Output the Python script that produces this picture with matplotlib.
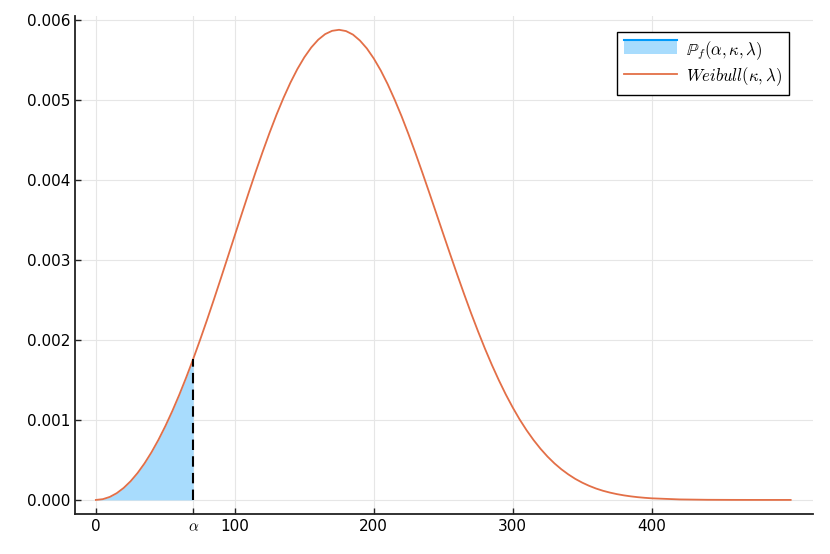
import matplotlib.pyplot as plt
from matplotlib.lines import Line2D
from matplotlib.legend_handler import HandlerBase

plt.rcParams['mathtext.fontset'] = 'cm'

# density (Weibull, kappa=3, lambda=200)
x = [0, 5, 10, 15, 20, 25, 30, 35, 40, 45, 50, 55, 60, 65, 70, 75, 80, 85,
     90, 95, 100, 105, 110, 115, 120, 125, 130, 135, 140, 145, 150, 155,
     160, 165, 170, 175, 180, 185, 190, 195, 200, 205, 210, 215, 220, 225,
     230, 235, 240, 245, 250, 255, 260, 265, 270, 275, 280, 285, 290, 295,
     300, 305, 310, 315, 320, 325, 330, 335, 340, 345, 350, 355, 360, 365,
     370, 375, 380, 385, 390, 395, 400, 420, 440, 460, 480, 500]
y = [0.0, 0.0000094, 0.0000375, 0.0000843, 0.0001499, 0.0002339, 0.0003364,
     0.0004569, 0.0005952, 0.0007508, 0.000923, 0.001111, 0.001314, 0.001531,
     0.00176, 0.002001, 0.002251, 0.002509, 0.002773, 0.003040, 0.003309,
     0.003577, 0.003842, 0.004101, 0.004351, 0.004590, 0.004816, 0.005025,
     0.005216, 0.005386, 0.005533, 0.005656, 0.005753, 0.005823, 0.005864,
     0.005877, 0.005861, 0.005817, 0.005743, 0.005644, 0.005518, 0.005369,
     0.005197, 0.005004, 0.004796, 0.004571, 0.004335, 0.004089, 0.003837,
     0.003581, 0.003324, 0.003069, 0.002818, 0.002573, 0.002335, 0.002108,
     0.001891, 0.001687, 0.001496, 0.001318, 0.001155, 0.001005, 0.000870,
     0.000748, 0.000639, 0.000542, 0.000457, 0.000383, 0.000319, 0.000263,
     0.000216, 0.000176, 0.000142, 0.000114, 0.0000913, 0.0000723, 0.0000569,
     0.0000444, 0.0000343, 0.0000264, 0.0000201, 0.0000063, 0.0000017,
     0.0000004, 0.0, 0.0]
alpha = 70
alpha_y = 0.00176

xticks = [0, alpha, 100, 200, 300, 400]
xticklabels = ['0', r'$\alpha$', '100', '200', '300', '400']
yticks = [0.0, 0.001, 0.002, 0.003, 0.004, 0.005, 0.006]


class FillHandler(HandlerBase):
    # light fill with a darker line along its top, like the reference legend
    def create_artists(self, legend, orig, xd, yd, w, h, fontsize, trans):
        p = plt.Rectangle((xd, yd), w, h, facecolor='#a8dcfd',
                          edgecolor='none', transform=trans)
        l = Line2D([xd, xd + w], [yd + h, yd + h], color='#009afa', lw=1.5,
                   transform=trans)
        return [p, l]


fig = plt.figure(figsize=(8.3, 5.54), dpi=100)
ax = fig.add_axes([0.0904, 0.0722, 0.889, 0.899])

n = x.index(alpha) + 1
fill = ax.fill_between(x[:n], 0, y[:n], color='#a8dcfd', linewidth=0)
line, = ax.plot(x, y, color='#e36f47', lw=1.3)
ax.plot([alpha, alpha], [0, alpha_y], color='black', lw=1.5, ls=(0, (5, 3)))

ax.set_xlim(-15, 516)
ax.set_ylim(-0.000176, 0.00605)
ax.set_xticks(xticks)
ax.set_xticklabels(xticklabels)
ax.set_yticks(yticks)
ax.set_yticklabels(['%.3f' % v for v in yticks])
ax.tick_params(direction='in', length=4, width=1, labelsize=11, color='#222222')
ax.grid(True, color='#e6e6e6', lw=0.8)
ax.set_axisbelow(True)
for s in ['top', 'right']:
    ax.spines[s].set_visible(False)
for s in ['left', 'bottom']:
    ax.spines[s].set_linewidth(1.3)
    ax.spines[s].set_color('#222222')

leg = ax.legend([fill, line],
                [r'$\mathbb{P}_f(\alpha, \kappa, \lambda)$',
                 r'$Weibull(\kappa, \lambda)$'],
                handler_map={type(fill): FillHandler()},
                loc='upper right', bbox_to_anchor=(0.967, 0.968),
                borderaxespad=0,
                fancybox=False, edgecolor='black', framealpha=1,
                fontsize=12, handlelength=3.2, handleheight=0.9,
                borderpad=0.42, labelspacing=0.2, handletextpad=0.5)
leg.get_frame().set_linewidth(1.0)

fig.savefig('out.png', dpi=100)
